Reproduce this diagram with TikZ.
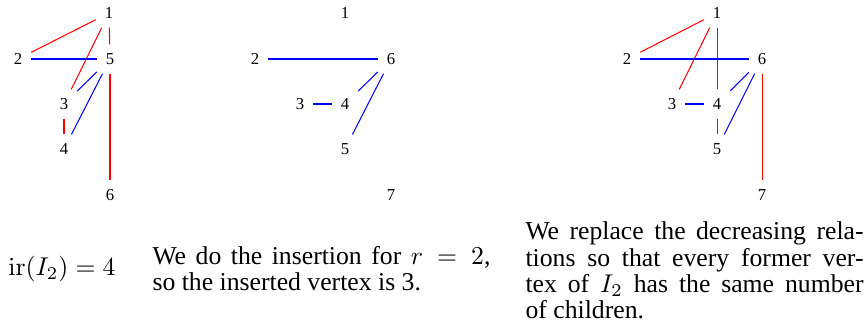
\documentclass[tikz,border=0pt]{standalone}
\usepackage[no-math]{fontspec}
\setmainfont{Liberation Serif}
\usetikzlibrary{positioning}

\begin{document}
\begin{tikzpicture}[
  x=0.389pt, y=-0.389pt,
  vtx/.style={font=\fontsize{6.5}{7.5}\selectfont},
  inc/.style={red},
  dec/.style={blue},
  caption/.style={align=justify, anchor=west, inner sep=0pt,
    text width=131.5pt, font=\fontsize{10}{10.3}\selectfont}
]
  \useasboundingbox (0,0) rectangle (865,333);

  % left tree
  \node[vtx] (l1) at (109,13) {1};
  \node[vtx] (l2) at (18,59) {2};
  \node[vtx] (l5) at (110,59) {5};
  \node[vtx] (l3) at (64,104) {3};
  \node[vtx] (l4) at (64,149) {4};
  \node[vtx] (l6) at (110,195) {6};
  \draw[inc] (l1) -- (l2);
  \draw[inc] (l1) -- (l3);
  \draw[inc] (l1) -- (l5);
  \draw[inc] (l3) -- (l4);
  \draw[inc] (l5) -- (l6);
  \draw[dec] (l2) -- (l5);
  \draw[dec] (l5) -- (l3);
  \draw[dec] (l5) -- (l4);

  % middle tree
  \node[vtx] (m1) at (345,13) {1};
  \node[vtx] (m2) at (255,59) {2};
  \node[vtx] (m6) at (391,59) {6};
  \node[vtx] (m3) at (300,104) {3};
  \node[vtx] (m4) at (345,104) {4};
  \node[vtx] (m5) at (345,149) {5};
  \node[vtx] (m7) at (391,195) {7};
  \draw[dec] (m2) -- (m6);
  \draw[dec] (m3) -- (m4);
  \draw[dec] (m6) -- (m4);
  \draw[dec] (m6) -- (m5);

  % right tree
  \node[vtx] (r1) at (717,13) {1};
  \node[vtx] (r2) at (627,59) {2};
  \node[vtx] (r6) at (762,59) {6};
  \node[vtx] (r3) at (672,104) {3};
  \node[vtx] (r4) at (717,104) {4};
  \node[vtx] (r5) at (717,149) {5};
  \node[vtx] (r7) at (762,195) {7};
  \draw[inc] (r1) -- (r2);
  \draw[inc] (r1) -- (r3);
  \draw[inc] (r1) -- (r4);
  \draw[inc] (r4) -- (r5);
  \draw[inc] (r6) -- (r7);
  \draw[dec] (r2) -- (r6);
  \draw[dec] (r3) -- (r4);
  \draw[dec] (r6) -- (r4);
  \draw[dec] (r6) -- (r5);

  % captions
  \node[font=\fontsize{10}{12}\selectfont] (irtext) at (62,269) {$\mathrm{ir}(I_2)=4$};
  \node[caption] (midtext) at (152,268.5)
    {We do the insertion for $r=2$,\linebreak so the inserted vertex is 3.};
  \node[caption] (righttext) at (525,270.5)
    {We replace the decreasing rela-\linebreak tions so that every former ver-\linebreak tex of $I_2$ has the same number\linebreak of children.};
\end{tikzpicture}
\end{document}
